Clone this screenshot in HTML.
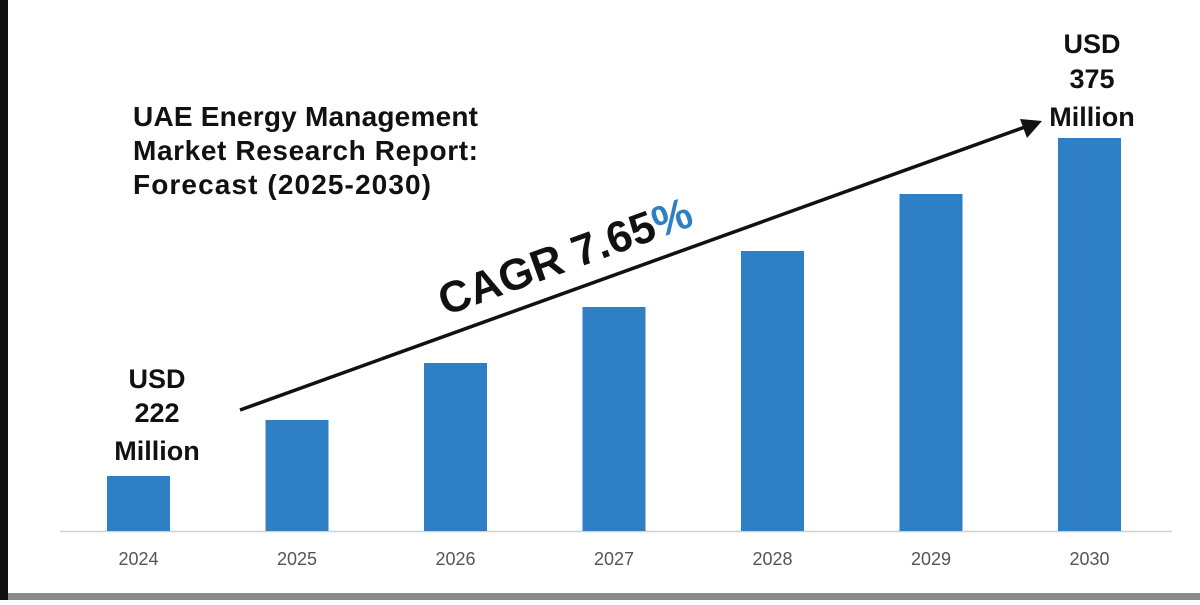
<!DOCTYPE html>
<html><head><meta charset="utf-8"><style>
body{margin:0;width:1200px;height:600px;overflow:hidden;background:#fff;font-family:"Liberation Sans",sans-serif}
</style></head><body>
<svg width="1200" height="600">
<rect x="0" y="0" width="8" height="600" fill="#111"/>
<rect x="8" y="593" width="1192" height="7" fill="#8a8a8a"/>
<line x1="60" y1="531.5" x2="1172" y2="531.5" stroke="#d0d0d0" stroke-width="1.5"/>
<g id="bars"></g>
<g id="xlabels"></g>
<g font-weight="bold" font-size="28" fill="#111">
<text x="133" y="126" textLength="345">UAE Energy Management</text>
<text x="133" y="160" textLength="345">Market Research Report:</text>
<text x="133" y="194" textLength="298">Forecast (2025-2030)</text>
</g>
<g font-weight="bold" font-size="27" fill="#111" text-anchor="middle">
<text x="157" y="388">USD</text><text x="157" y="422">222</text><text x="157" y="460">Million</text>
</g>
<g font-weight="bold" font-size="27" fill="#111" text-anchor="middle">
<text x="1092" y="53">USD</text><text x="1092" y="88">375</text><text x="1092" y="126">Million</text>
</g>
<line x1="240" y1="410" x2="1025" y2="127" stroke="#111" stroke-width="3.5"/>
<polygon points="1042,121 1020,119 1027,138" fill="#111"/>
<text x="0" y="0" transform="translate(445,316) rotate(-20)" font-size="44" font-weight="bold" fill="#111">CAGR 7.65<tspan fill="#2e7fc3">%</tspan></text>
</svg>
<script>
const years=["2024","2025","2026","2027","2028","2029","2030"];
const values=[55,111,168,224,280,337,393];
const x0=107,step=158.5,bw=63,base=531;
function xPos(i){return x0+i*step;}
function yPos(v){return base-v;}
const ns="http://www.w3.org/2000/svg";
const bars=document.getElementById('bars'),xl=document.getElementById('xlabels');
values.forEach((v,i)=>{
 const r=document.createElementNS(ns,'rect');
 r.setAttribute('x',xPos(i));r.setAttribute('y',yPos(v));r.setAttribute('width',bw);r.setAttribute('height',base-yPos(v));r.setAttribute('fill','#2e7fc3');
 
 
 bars.appendChild(r);
 const t=document.createElementNS(ns,'text');
 t.setAttribute('x',xPos(i)+bw/2);t.setAttribute('y',565);t.setAttribute('text-anchor','middle');t.setAttribute('font-size','18');t.setAttribute('fill','#555');
 t.textContent=years[i];
 
 
 xl.appendChild(t);
});
</script>
</body></html>
